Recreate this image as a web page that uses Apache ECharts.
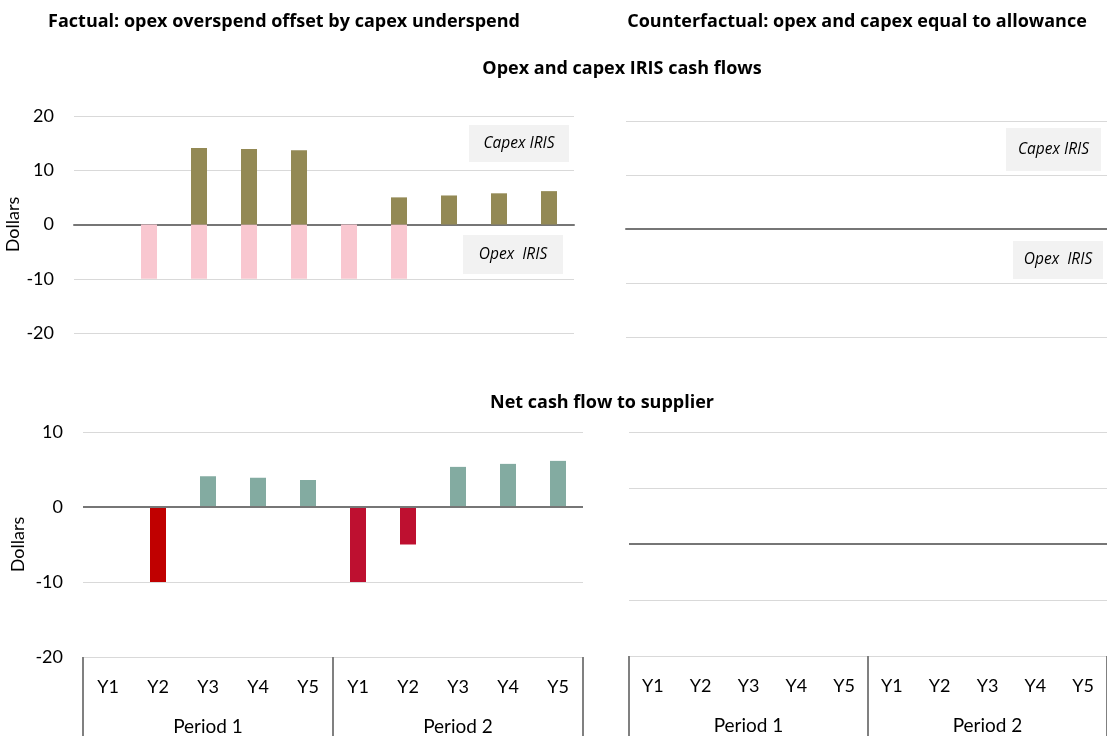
<!DOCTYPE html>
<html>
<head>
<meta charset="utf-8">
<script src="https://cdn.jsdelivr.net/npm/echarts@6/dist/echarts.min.js"></script>
<style>
  html, body { margin: 0; padding: 0; background: #fff; }
  #chart { width: 1107px; height: 736px; }
</style>
</head>
<body>
<div id="chart"></div>
<script>
// data
const years = ["Y1", "Y2", "Y3", "Y4", "Y5", "Y1", "Y2", "Y3", "Y4", "Y5"];
const periods = ["Period 1", "Period 2"];
const capexFactual = [0, 0, 14.1, 13.9, 13.7, 0, 5.0, 5.35, 5.75, 6.15];
const opexFactual = [0, -10, -10, -10, -10, -10, -10, 0, 0, 0];
const netFactual = [0, -10, 4.1, 3.9, 3.6, -10, -5, 5.35, 5.75, 6.15];
// counterfactual: opex and capex equal to allowance -> no IRIS flows
const capexCounter = [0, 0, 0, 0, 0, 0, 0, 0, 0, 0];
const opexCounter = [0, 0, 0, 0, 0, 0, 0, 0, 0, 0];
const netCounter = [0, 0, 0, 0, 0, 0, 0, 0, 0, 0];

const FONT = "Lato";
const HEAD_FONT = "Open Sans";
const gridLine = { show: true, lineStyle: { color: "#d9d9d9", width: 1 } };
const zeroLine = {
  silent: true,
  symbol: "none",
  label: { show: false },
  lineStyle: { color: "#767676", width: 2, type: "solid" },
  data: [{ yAxis: 0 }],
};

function netColor(p) {
  if (p.value < 0) return p.dataIndex < 5 ? "#c00000" : "#be1030";
  return "#83aba1";
}

function heading(cx, cy, text) {
  return {
    type: "text",
    x: cx,
    y: cy,
    style: {
      text: text,
      fontFamily: HEAD_FONT,
      fontWeight: "bold",
      fontSize: 18,
      fill: "#000",
      align: "center",
      verticalAlign: "middle",
    },
  };
}

function noteBox(x, y, w, h, text) {
  return {
    type: "group",
    left: x,
    top: y,
    children: [
      { type: "rect", shape: { x: 0, y: 0, width: w, height: h }, style: { fill: "#f2f2f2" } },
      {
        type: "text",
        x: w / 2,
        y: h / 2,
        style: {
          text: text,
          fontFamily: HEAD_FONT,
          fontStyle: "italic",
          fontSize: 15.5,
          fill: "#000",
          align: "center",
          verticalAlign: "middle",
        },
      },
    ],
  };
}

const chart = echarts.init(document.getElementById("chart"));

chart.setOption({
  animation: false,
  textStyle: { fontFamily: FONT },
  grid: [
    { left: 74, top: 116, width: 500, height: 217 },
    { left: 626, top: 121, width: 488, height: 216 },
    { left: 83, top: 432, width: 500, height: 225 },
    { left: 629, top: 432, width: 488, height: 224 },
    // overlays carrying the period level of the category axis
    { left: 83, top: 432, width: 500, height: 225 },
    { left: 629, top: 432, width: 488, height: 224 },
  ],
  xAxis: [
    {
      type: "category", gridIndex: 0, data: years,
      axisLine: { onZero: true, lineStyle: { color: "#767676", width: 2 } },
      axisTick: { show: false }, axisLabel: { show: false },
    },
    {
      type: "category", gridIndex: 1, data: years,
      axisLine: { onZero: true, lineStyle: { color: "#767676", width: 2 } },
      axisTick: { show: false }, axisLabel: { show: false },
    },
    {
      type: "category", gridIndex: 2, data: years, position: "bottom",
      axisLine: { show: false, onZero: false }, axisTick: { show: false },
      axisLabel: { color: "#000", fontSize: 18, margin: 21, interval: 0 },
    },
    {
      type: "category", gridIndex: 3, data: years, position: "bottom",
      axisLine: { show: false, onZero: false }, axisTick: { show: false },
      axisLabel: { color: "#000", fontSize: 18, margin: 21, interval: 0 },
    },
    {
      type: "category", gridIndex: 4, data: periods, position: "bottom",
      axisLine: { show: false, onZero: false },
      axisTick: { show: true, length: 80, lineStyle: { color: "#808080", width: 2 } },
      axisLabel: { color: "#000", fontSize: 19, margin: 60 },
    },
    {
      type: "category", gridIndex: 5, data: periods, position: "bottom",
      axisLine: { show: false, onZero: false },
      axisTick: { show: true, length: 80, lineStyle: { color: "#808080", width: 2 } },
      axisLabel: { color: "#000", fontSize: 19, margin: 60 },
    },
  ],
  yAxis: [
    {
      type: "value", gridIndex: 0, min: -20, max: 20, interval: 10,
      name: "Dollars", nameLocation: "middle", nameGap: 47,
      nameTextStyle: { color: "#000", fontSize: 18, fontFamily: FONT },
      axisLabel: { color: "#000", fontSize: 18, margin: 20 },
      splitLine: gridLine,
    },
    {
      type: "value", gridIndex: 1, min: -20, max: 20, interval: 10,
      axisLabel: { show: false }, splitLine: gridLine,
    },
    {
      type: "value", gridIndex: 2, min: -20, max: 10, interval: 10,
      name: "Dollars", nameLocation: "middle", nameGap: 56,
      nameTextStyle: { color: "#000", fontSize: 18, fontFamily: FONT },
      axisLabel: { color: "#000", fontSize: 18, margin: 20 },
      splitLine: gridLine,
    },
    {
      type: "value", gridIndex: 3, min: -20, max: 20, interval: 10,
      axisLabel: { show: false }, splitLine: gridLine,
    },
    { type: "value", gridIndex: 4, min: -20, max: 10, show: false },
    { type: "value", gridIndex: 5, min: -20, max: 20, show: false },
  ],
  series: [
    {
      name: "Opex IRIS", type: "bar", xAxisIndex: 0, yAxisIndex: 0,
      data: opexFactual, barWidth: 16, barGap: "-100%", itemStyle: { color: "#f9c7d0" },
    },
    {
      name: "Capex IRIS", type: "bar", xAxisIndex: 0, yAxisIndex: 0,
      data: capexFactual, barWidth: 16, barGap: "-100%", itemStyle: { color: "#938954" },
    },
    {
      name: "Opex IRIS", type: "bar", xAxisIndex: 1, yAxisIndex: 1,
      data: opexCounter, barWidth: 16, barGap: "-100%", itemStyle: { color: "#f9c7d0" },
    },
    {
      name: "Capex IRIS", type: "bar", xAxisIndex: 1, yAxisIndex: 1,
      data: capexCounter, barWidth: 16, barGap: "-100%", itemStyle: { color: "#938954" },
    },
    {
      name: "Net", type: "bar", xAxisIndex: 2, yAxisIndex: 2,
      data: netFactual, barWidth: 16, itemStyle: { color: netColor },
      markLine: zeroLine,
    },
    {
      name: "Net", type: "bar", xAxisIndex: 3, yAxisIndex: 3,
      data: netCounter, barWidth: 16, itemStyle: { color: netColor },
      markLine: zeroLine,
    },
  ],
  graphic: [
    heading(284, 22, "Factual: opex overspend offset by capex underspend"),
    heading(857, 22, "Counterfactual: opex and capex equal to allowance"),
    heading(622, 69, "Opex and capex IRIS cash flows"),
    heading(602, 403, "Net cash flow to supplier"),
    noteBox(469, 125, 100, 37, "Capex IRIS"),
    noteBox(463, 235, 100, 39, "Opex  IRIS"),
    noteBox(1006, 128, 95, 43, "Capex IRIS"),
    noteBox(1013, 241, 90, 38, "Opex  IRIS"),
  ],
});
</script>
</body>
</html>
